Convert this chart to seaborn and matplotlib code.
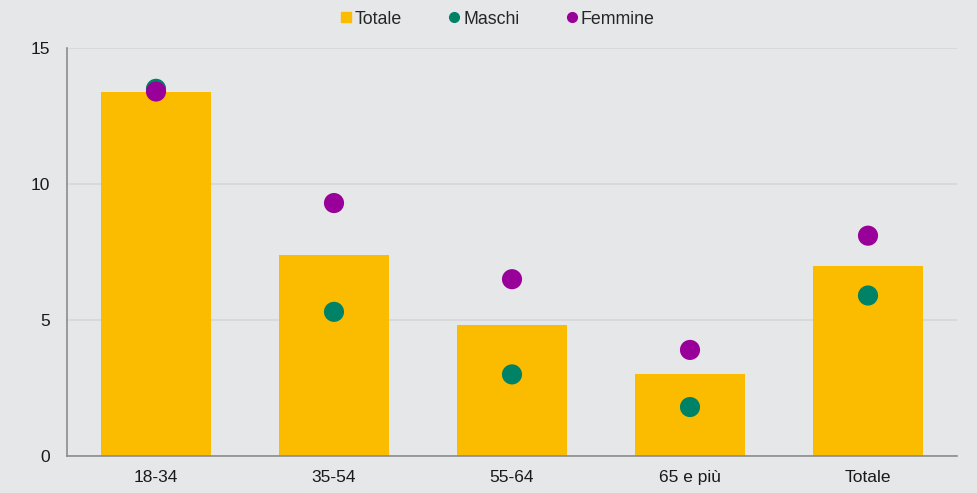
import matplotlib
matplotlib.use("Agg")
import matplotlib.pyplot as plt
import seaborn as sns
import pandas as pd
from matplotlib.lines import Line2D
from matplotlib.ticker import FixedLocator

categories = ["18-34", "35-54", "55-64", "65 e più", "Totale"]
totale = [13.4, 7.4, 4.8, 3.0, 7.0]
maschi = [13.5, 5.3, 3.0, 1.8, 5.9]
femmine = [13.4, 9.3, 6.5, 3.9, 8.1]
yticks = [0, 5, 10, 15]

BG = "#e6e7e9"
C_TOT = "#fbbc00"
C_M = "#008266"
C_F = "#990099"

sns.set_theme(style="white")
plt.rcParams["font.family"] = ["Liberation Sans", "DejaVu Sans"]

df = pd.DataFrame({"cat": categories, "Totale": totale, "Maschi": maschi, "Femmine": femmine})

fig = plt.figure(figsize=(9.77, 4.93), dpi=100, facecolor=BG)
ax = fig.add_axes([67/977, 37/493, 890/977, 408/493])
ax.set_facecolor(BG)

ax.set_axisbelow(True)
ax.yaxis.grid(True, color="#d6d7d9", linewidth=1.2)

sns.barplot(data=df, x="cat", y="Totale", color=C_TOT, width=0.62, saturation=1,
            linewidth=0, edgecolor="none", ax=ax, zorder=2)
sns.scatterplot(data=df, x="cat", y="Maschi", color=C_M, s=210, edgecolor="none", ax=ax, zorder=3)
sns.scatterplot(data=df, x="cat", y="Femmine", color=C_F, s=210, edgecolor="none", ax=ax, zorder=4)

ax.set_xlim(-0.5, len(categories) - 0.5)
ax.set_ylim(0, 15)
ax.set_yticks(yticks)
ax.set_xlabel("")
ax.set_ylabel("")

for s in ["top", "right"]:
    ax.spines[s].set_visible(False)
for s in ["left", "bottom"]:
    ax.spines[s].set_color("#8c8c8c")
    ax.spines[s].set_linewidth(1.2)

ax.tick_params(axis="x", which="major", length=0, pad=10, labelsize=12.5, labelcolor="#1a1a1a")
ax.xaxis.set_minor_locator(FixedLocator([i - 0.5 for i in range(len(categories) + 1)]))
ax.tick_params(axis="x", which="minor", length=5, width=1.2, color="#8c8c8c", direction="out")
ax.tick_params(axis="y", length=5, width=1.2, color="#8c8c8c", direction="out", pad=7,
               labelsize=12.5, labelcolor="#1a1a1a")

handles = [
    Line2D([], [], marker="s", linestyle="none", color=C_TOT, markersize=6.5),
    Line2D([], [], marker="o", linestyle="none", color=C_M, markersize=7),
    Line2D([], [], marker="o", linestyle="none", color=C_F, markersize=7),
]
fig.legend(handles, ["Totale", "Maschi", "Femmine"], loc="center", bbox_to_anchor=(0.508, 1 - 19/493),
           ncol=3, frameon=False, fontsize=12.8, handletextpad=0.05, columnspacing=2.5, handlelength=0.9)

fig.savefig("out.png", dpi=100, facecolor=BG)
